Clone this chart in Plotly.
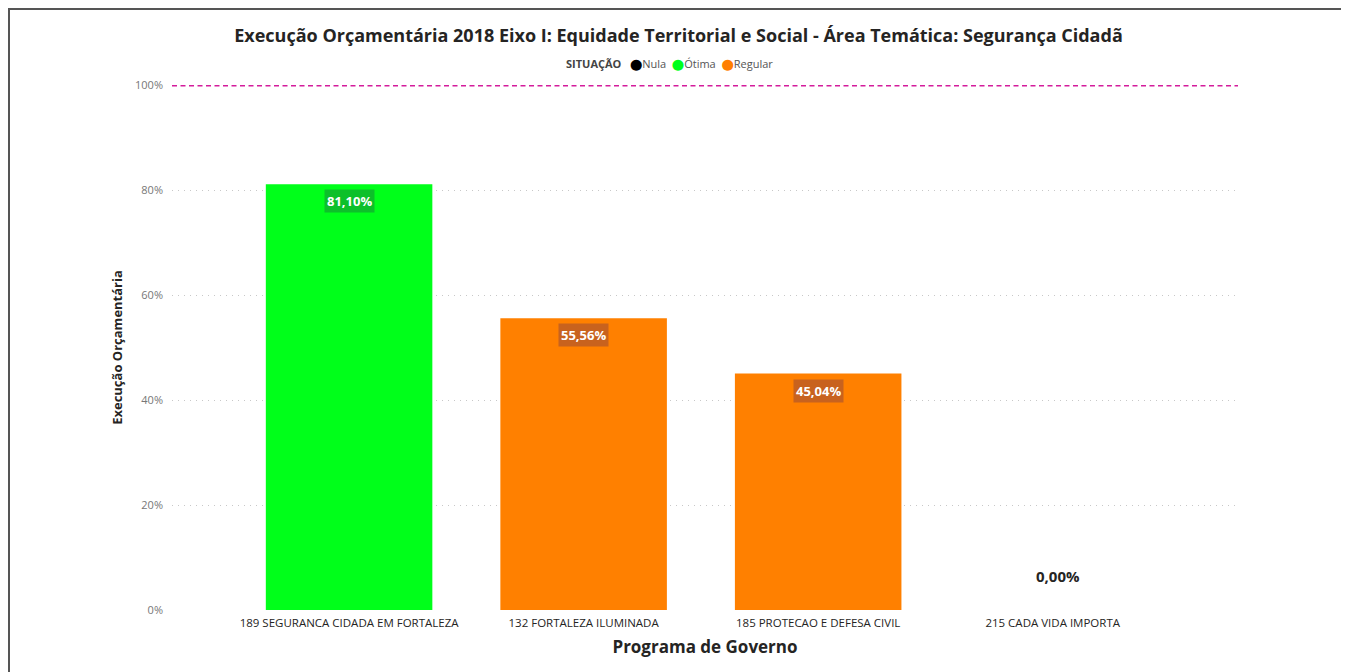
import plotly.graph_objects as go

categories = ["189 SEGURANCA CIDADA EM FORTALEZA", "132 FORTALEZA ILUMINADA",
              "185 PROTECAO E DEFESA CIVIL", "215 CADA VIDA IMPORTA"]
values = [0.8110, 0.5556, 0.4504, 0.0]
labels = ["81,10%", "55,56%", "45,04%", "0,00%"]
situacao = ["Ótima", "Regular", "Regular", "Nula"]
legend_items = ["Nula", "Ótima", "Regular"]
colors = {"Nula": "#000000", "Ótima": "#00FF1A", "Regular": "#FF8000"}
label_bg = {"Ótima": "#0DC02A", "Regular": "#C8621E"}
target = 1.0

FONT = "Open Sans"
W, H = 1341, 664
fig = go.Figure()

fig.add_trace(go.Bar(
    x=categories, y=values,
    marker=dict(color=[colors[s] for s in situacao], line=dict(width=0)),
    width=0.71, showlegend=False, hoverinfo="x+y"))

for c, v, lab, s in zip(categories, values, labels, situacao):
    if v > 0:
        fig.add_annotation(x=c, y=v, text="<b>" + lab + "</b>", showarrow=False,
                           yanchor="top", yshift=-5,
                           font=dict(family=FONT, size=13, color="white"),
                           bgcolor=label_bg[s], borderpad=2)
    else:
        fig.add_annotation(x=c, y=v, text="<b>" + lab + "</b>", showarrow=False,
                           yanchor="bottom", yshift=22, xshift=5,
                           font=dict(family=FONT, size=15, color="#252423"))

# legend drawn as text
legend_text = "<span style='color:#444444'><b>SITUAÇÃO</b></span>&nbsp;&nbsp;&nbsp;" + "&nbsp;&nbsp;".join(
    "<span style='color:%s;font-family:DejaVu Sans;font-size:11px'>⬤</span>%s" % (colors[i], i)
    for i in legend_items)
fig.add_annotation(xref="paper", yref="paper", x=0.467, y=1.04, xanchor="center",
                   yanchor="middle", text=legend_text, showarrow=False,
                   font=dict(family=FONT, size=11, color="#555555"))

fig.add_shape(type="line", xref="paper", yref="y", x0=0, x1=1, y0=target, y1=target,
              line=dict(color="#D41C9C", width=3, dash="5px,3.5px"))

ml, mr, mt, mb = 164, 111, 77, 62
pw, ph = W - ml - mr, H - mt - mb
fig.add_shape(type="rect", xref="paper", yref="paper",
              x0=(1 - ml) / pw, x1=(1336 - ml) / pw, y0=-(mb + 5) / ph, y1=(ph + mt - 1) / ph,
              line=dict(color="#555555", width=2), layer="below")

fig.update_layout(
    width=W, height=H,
    margin=dict(l=ml, r=mr, t=mt, b=mb),
    paper_bgcolor="white", plot_bgcolor="white",
    font=dict(family=FONT, color="#252423"),
    title=dict(text="<b>Execução Orçamentária 2018 Eixo I: Equidade Territorial e Social - Área Temática: Segurança Cidadã</b>",
               x=0.5, xanchor="center", y=1 - 28 / H, yanchor="middle",
               font=dict(family=FONT, size=18, color="#252423")),
    bargap=0.29,
    showlegend=False,
)

fig.update_xaxes(range=[-0.755, 3.79], showgrid=False, zeroline=False, showline=False,
                 ticks="", tickfont=dict(size=11.5, color="#252423"), ticklabelstandoff=4,
                 title=dict(text="<b>Programa de Governo</b>", font=dict(size=17, color="#252423"),
                            standoff=12))
fig.update_yaxes(range=[0, 1.0], dtick=0.2, tickformat=".0%", showgrid=True,
                 gridcolor="#C8C8C8", griddash="1px,5px", gridwidth=1, zeroline=False,
                 showline=False, ticks="", tickfont=dict(size=11, color="#777777"),
                 ticklabelstandoff=8,
                 title=dict(text="<b>Execução Orçamentária</b>", font=dict(size=13, color="#252423"),
                            standoff=9))

fig.write_html("out.html")
